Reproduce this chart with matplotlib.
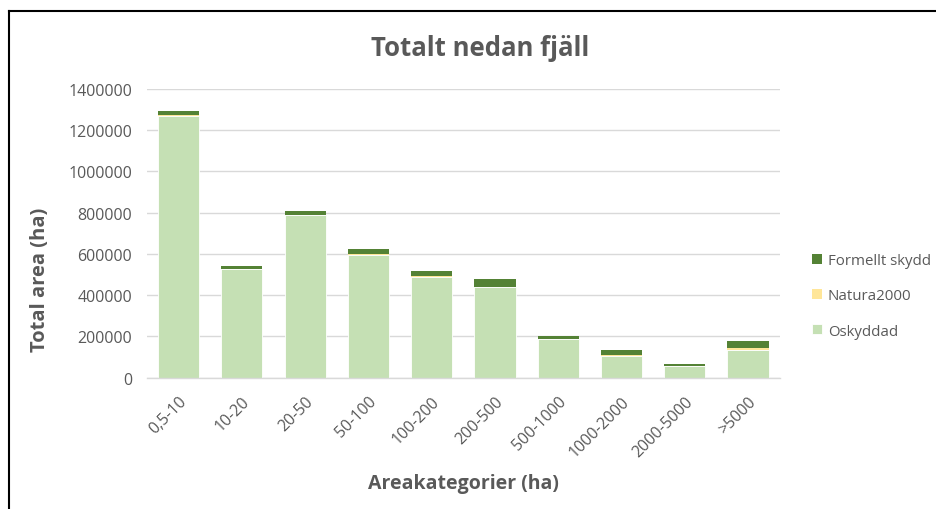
import matplotlib.pyplot as plt
import matplotlib.lines as mlines
import numpy as np

categories = ['0,5-10', '10-20', '20-50', '50-100', '100-200', '200-500',
              '500-1000', '1000-2000', '2000-5000', '>5000']

# area per category (ha)
oskyddad = [1269000, 527000, 789000, 596000, 490000, 438000, 186000, 104000, 57000, 134000]
natura2000 = [4000, 2000, 2000, 2000, 2000, 2000, 1500, 5000, 1000, 10000]
formellt_skydd = [18000, 12000, 17000, 26000, 25000, 40000, 16000, 25000, 8000, 32000]

c_osk = '#C5E0B4'
c_nat = '#FFE699'
c_form = '#548235'
grey = '#595959'

plt.rcParams['font.family'] = ['Open Sans', 'DejaVu Sans']

fig = plt.figure(figsize=(9.36, 5.1), dpi=100)
ax = fig.add_axes([0.157, 0.2575, 0.676, 0.566])

x = np.arange(len(categories))
osk = np.array(oskyddad)
nat = np.array(natura2000)
frm = np.array(formellt_skydd)

w = 0.65
ax.bar(x, osk, w, color=c_osk, label='Oskyddad', edgecolor='white', linewidth=0.6)
ax.bar(x, nat, w, bottom=osk, color=c_nat, label='Natura2000')
ax.bar(x, frm, w, bottom=osk + nat, color=c_form, label='Formellt skydd')

ax.set_xlim(-0.5, len(categories) - 0.5)
ax.set_ylim(0, 1400000)
ax.set_yticks(np.arange(0, 1400001, 200000))
ax.set_yticklabels([str(v) for v in range(0, 1400001, 200000)])
ax.yaxis.grid(True, color='#D9D9D9', linewidth=1)
ax.set_axisbelow(True)
for s in ['top', 'right', 'left']:
    ax.spines[s].set_visible(False)
ax.spines['bottom'].set_color('#D9D9D9')
ax.spines['bottom'].set_linewidth(1)
ax.tick_params(axis='both', length=0, labelsize=11.5, colors=grey)
ax.tick_params(axis='y', pad=10.5)

ax.set_xticks(x)
ax.set_xticklabels(categories, rotation=45, ha='right', rotation_mode='anchor')
ax.tick_params(axis='x', pad=11)

ax.set_ylabel('Total area (ha)', fontsize=14.5, fontweight='bold', color=grey)
ax.yaxis.set_label_coords(-0.153, 0.342)
ax.set_xlabel('Areakategorier (ha)', fontsize=14, fontweight='bold', color=grey, labelpad=10)
fig.text(0.513, 0.905, 'Totalt nedan fjäll', fontsize=18.5, fontweight='bold',
         color=grey, ha='center', va='center')

h, l = ax.get_legend_handles_labels()
leg = ax.legend(h[::-1], l[::-1], loc='center left', bbox_to_anchor=(1.03, 0.283),
                frameon=False, fontsize=10.8, labelspacing=1.35,
                handlelength=0.65, handleheight=0.65, handletextpad=0.4)
for t in leg.get_texts():
    t.set_color(grey)

# black border at top and left of the image
fig.add_artist(mlines.Line2D([9 / 936, 1], [1 - 12 / 510, 1 - 12 / 510],
                             color='black', linewidth=1.5, transform=fig.transFigure))
fig.add_artist(mlines.Line2D([9 / 936, 9 / 936], [0, 1 - 12 / 510],
                             color='black', linewidth=1.5, transform=fig.transFigure))

fig.savefig('out.png', dpi=100)
